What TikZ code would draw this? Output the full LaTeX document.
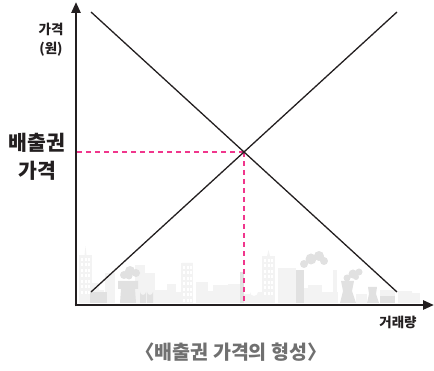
\documentclass[tikz,border=0pt]{standalone}
\usepackage{fontspec}
\newfontfamily\kr{Noto Sans CJK KR}
\usetikzlibrary{arrows.meta}

\definecolor{axisline}{HTML}{231F20}
\definecolor{tradepink}{HTML}{F0368C}
\definecolor{citylight}{HTML}{F3F3F3}
\definecolor{citydark}{HTML}{E1E1E1}
\definecolor{captiongray}{HTML}{707070}

\begin{document}
\begin{tikzpicture}[x=1pt,y=-1pt,
        axis/.style={draw=axisline,line width=2.6pt,-{Triangle[length=11pt,width=9pt]}},
        curve/.style={draw=axisline,line width=1.3pt},
        pinkdash/.style={draw=tradepink,line width=1.4pt,dash pattern=on 5pt off 4pt},
        bldg/.style={fill=citylight},
        plant/.style={fill=citydark},
        lbl/.style={font=\kr\bfseries\fontsize{13.5}{19}\selectfont,text=axisline,align=center,inner sep=0pt},
        biglbl/.style={font=\kr\bfseries\fontsize{20.5}{28}\selectfont,text=axisline,align=center,inner sep=0pt},
        caption/.style={font=\kr\bfseries\fontsize{19.5}{22}\selectfont,text=captiongray,inner sep=0pt}]

        \useasboundingbox (0,0) rectangle (434,371);

        % skyline
        \foreach \x/\w/\t in {79/13/255, 90/9/283, 96/8/290, 105/10/273, 135/10/265, 145/10/273,
                155/12/290, 167/9/284, 176/6/292, 181/12/263, 196/12/282, 208/5/291,
                213/15/285, 228/12/284, 244/6/294, 258/4/292, 262/13/256, 278/15/268,
                290/6/268, 304/4/288, 308/14/285, 322/16/292, 356/11/294,
                380/15/290, 398/14/291, 412/8/293}
            \fill[bldg] (\x,303) rectangle ({\x+\w},\t);
        \fill[bldg] (84.5,255) -- (85.5,246) -- (86.5,255) -- cycle;
        \fill[bldg] (267,256) -- (268.5,250) -- (270,256) -- cycle;
        \fill[bldg] (182,263) arc (180:0:5.5) -- cycle;
        \fill[bldg] (250,303) -- (250,292) arc (180:0:4) -- (258,303) -- cycle;
        \fill[bldg] (398,303) -- (398,292) arc (180:0:7) -- (412,303) -- cycle;
        \fill[bldg] (333,303) rectangle (337,270);
        \foreach \x/\t in {81/258, 264/259, 183/266}
            \foreach \i in {0,...,6}
                \foreach \j in {0,1,2}
                    \fill[white] ({\x+\j*3.5},{\t+\i*5.5}) rectangle ++(2,3);

        \fill[plant] (90,303) rectangle (107,292);
        \fill[plant] (120,303) -- (121,289) -- (118,289) -- (118,281) -- (138,281) -- (138,289)
            -- (135,289) -- (136,303) -- cycle;
        \fill[plant] (140,303) -- (140,292) arc (180:0:3) -- (146,303) -- cycle;
        \fill[plant] (147,303) -- (147,292) arc (180:0:3) -- (153,303) -- cycle;
        \fill[plant] (240,303) rectangle (244,272);
        \fill[plant] (296,303) rectangle (304,270);
        \fill[plant] (340,303) -- (343,291) -- (341,281) -- (354,281) -- (352,291) -- (356,303) -- cycle;
        \fill[plant] (367,303) -- (369,294) -- (368,287) -- (377,287) -- (376,294) -- (379,303) -- cycle;
        \fill[plant] (380,303) rectangle (395,296);

        \fill[plant] (124,275) circle (4) (130,271) circle (5) (136,273) circle (4) (129,276) circle (3.5);
        \fill[plant] (304,264) circle (4) (311,259) circle (5.5) (319,256) circle (5) (324,261) circle (4);
        \fill[plant] (347,278) circle (3.5) (353,274) circle (4.5) (359,272) circle (3.5) (356,277) circle (3);

        % axes and curves
        \coordinate (o) at (76,305);
        \coordinate (ytip) at (76,2);
        \coordinate (xtip) at (434,305);
        \coordinate (d1) at (91,12);
        \coordinate (d2) at (397,292);
        \coordinate (s1) at (91,292);
        \coordinate (s2) at (397,12);
        \coordinate (eq) at (intersection of d1--d2 and s1--s2);

        \path[pinkdash] (eq) -- (eq -| o);
        \path[pinkdash] (eq) -- (eq |- o);

        \path[curve] (d1) -- (d2);
        \path[curve] (s1) -- (s2);

        \path[axis] (76,306.3) -- (ytip);
        \path[axis] (74.7,305) -- (xtip);

        \node[lbl] (ylab) at (51,40) {가격\\(원)};
        \node[biglbl] (plab) at (37,157) {배출권\\가격};
        \node[lbl] (xlab) at (398,322) {거래량};
        \node[caption] (cap) at (231,352) {〈배출권 가격의 형성〉};
    \end{tikzpicture}
\end{document}
